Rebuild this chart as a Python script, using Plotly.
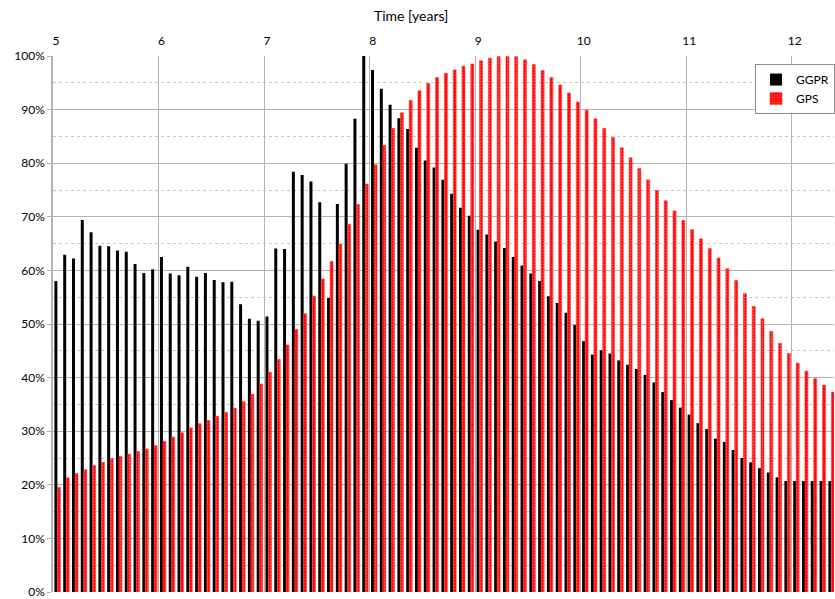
import plotly.graph_objects as go

# Time in years: monthly samples starting at year 5 (bar centred in each month)
start_year = 5
n_months = 89
time_years = [start_year + (k + 0.5) / 12 for k in range(n_months)]

ggpr = [58.0, 62.9, 62.2, 69.4, 67.1, 64.6, 64.5, 63.7, 63.5, 61.2, 59.5, 60.2,
        62.5, 59.4, 59.1, 60.7, 58.8, 59.5, 58.2, 57.8, 57.9, 53.7, 51.0, 50.6,
        51.4, 64.1, 64.0, 78.4, 77.8, 76.6, 72.7, 54.9, 72.4, 79.9, 88.3, 100.0,
        97.4, 93.9, 90.9, 88.4, 86.4, 82.9, 80.5, 79.2, 76.9, 74.3, 71.7, 70.2,
        67.6, 66.7, 65.4, 64.2, 62.5, 60.9, 59.4, 58.0, 55.2, 53.9, 52.1, 49.8,
        46.8, 44.3, 45.1, 44.5, 43.2, 42.4, 41.6, 40.5, 39.1, 37.3, 35.8, 34.4,
        33.1, 31.5, 30.4, 28.6, 28.0, 26.5, 25.0, 24.2, 23.1, 22.3, 21.4, 20.7,
        20.7, 20.7, 20.7, 20.7, 20.7]

gps = [19.5, 21.3, 22.1, 22.8, 23.6, 24.2, 24.9, 25.3, 25.7, 26.2, 26.7, 27.3,
       28.1, 28.9, 29.7, 30.6, 31.4, 32.0, 32.8, 33.5, 34.3, 35.5, 36.9, 38.8,
       41.0, 43.4, 46.1, 49.0, 51.9, 55.2, 58.4, 61.7, 64.9, 68.6, 72.3, 76.1,
       79.7, 83.3, 86.5, 89.4, 91.7, 93.5, 94.9, 96.0, 96.8, 97.4, 98.1, 98.5,
       99.1, 99.6, 99.9, 99.9, 99.9, 99.3, 98.4, 97.3, 96.0, 94.6, 93.1, 91.4,
       89.9, 88.3, 86.5, 84.8, 82.9, 81.0, 79.0, 76.9, 74.9, 73.0, 71.1, 69.3,
       67.6, 65.9, 64.1, 62.3, 60.3, 58.1, 55.7, 53.3, 51.0, 48.6, 46.4, 44.5,
       42.7, 41.2, 39.8, 38.6, 37.3]

year_ticks = [5, 6, 7, 8, 9, 10, 11, 12]
pct_ticks = [0, 10, 20, 30, 40, 50, 60, 70, 80, 90, 100]

FONT = "Lato"
GRID = "#b3b3b3"

fig = go.Figure()
fig.add_trace(go.Bar(
    x=time_years, y=[v / 100 for v in ggpr], name="GGPR",
    marker=dict(color="black", line=dict(width=0)),
))
fig.add_trace(go.Bar(
    x=time_years, y=[v / 100 for v in gps], name="GPS",
    marker=dict(color="#ff0000",
                line=dict(color="#ff3030", width=0.6),
                pattern=dict(shape=".", fgcolor="#ffb0b0", bgcolor="#ff0000",
                             size=3, solidity=0.3)),
))

fig.update_layout(
    width=835, height=599,
    margin=dict(l=53, r=0, t=56, b=4),
    paper_bgcolor="white", plot_bgcolor="white",
    barmode="group", bargap=0.32, bargroupgap=0.0,
    font=dict(family=FONT, size=12, color="black"),
    showlegend=True,
    legend=dict(x=0.899, y=0.985, xanchor="left", yanchor="top",
                bgcolor="white", bordercolor="#8c8c8c", borderwidth=1,
                font=dict(family=FONT, size=12), itemwidth=30,
                tracegroupgap=0),
    annotations=[dict(text="Time [years]", x=0.459, y=1.076, xref="paper",
                      yref="paper", showarrow=False, xanchor="center",
                      yanchor="middle", font=dict(family=FONT, size=14))],
)

fig.update_xaxes(
    side="top", range=[5, 12.4], tickmode="array", tickvals=year_ticks,
    ticktext=[str(t) for t in year_ticks],
    showgrid=True, gridcolor=GRID, gridwidth=1,
    ticks="", ticklabelstandoff=8, ticklabelshift=3,
    zeroline=False, showline=False,
    tickfont=dict(family=FONT, size=12),
)
fig.update_yaxes(
    range=[0, 1], tickmode="array", tickvals=[p / 100 for p in pct_ticks],
    ticktext=[f"{p}%" for p in pct_ticks],
    showgrid=True, gridcolor=GRID, gridwidth=1,
    minor=dict(dtick=0.05, showgrid=True, gridcolor="#c8c8c8",
               griddash="dot", gridwidth=1),
    ticks="outside", ticklen=4, tickcolor=GRID,
    showline=True, linecolor=GRID, linewidth=1.5,
    zeroline=False, ticklabeloverflow="allow",
    tickfont=dict(family=FONT, size=12),
)

fig.write_html("out.html",
               config={"displayModeBar": False},
               post_script="document.body.style.margin='0';"
                           "document.body.style.overflow='hidden';")
